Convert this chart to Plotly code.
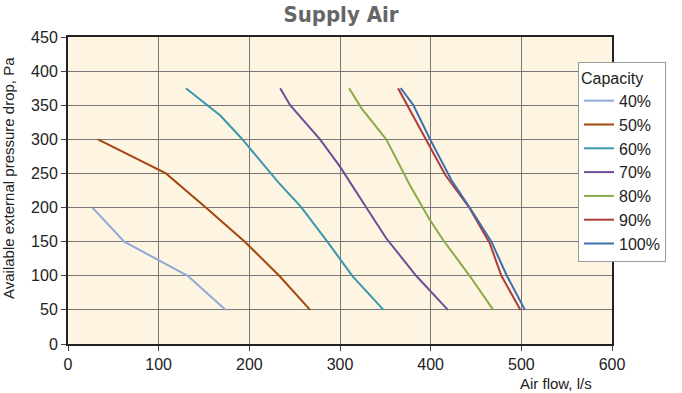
import plotly.graph_objects as go

names = ["40%", "50%", "60%", "70%", "80%", "90%", "100%"]
colors = ["#92a9d8", "#a3470f", "#3898ae", "#6b4f96", "#8aab4c", "#b03b3b", "#3b6fb1"]

x40 = [27, 62, 132, 174]
y40 = [200, 150, 100, 50]
x50 = [33, 108, 152, 195, 233, 267]
y50 = [300, 250, 200, 150, 100, 50]
x60 = [130, 168, 191, 212, 232, 257, 285, 314, 348]
y60 = [375, 335, 302, 268, 237, 201, 152, 99, 50]
x70 = [234, 245, 278, 300, 329, 351, 384, 419]
y70 = [375, 350, 300, 260, 200, 155, 100, 50]
x80 = [310, 324, 351, 377, 399, 414, 443, 469]
y80 = [375, 345, 300, 233, 182, 152, 100, 50]
x90 = [364, 399, 416, 443, 465, 478, 499]
y90 = [375, 291, 248, 199, 148, 100, 50]
x100 = [367, 381, 399, 423, 443, 467, 484, 504]
y100 = [375, 350, 301, 240, 200, 150, 100, 50]

xs = [x40, x50, x60, x70, x80, x90, x100]
ys = [y40, y50, y60, y70, y80, y90, y100]

font_fam = "Liberation Sans, Arial, sans-serif"

fig = go.Figure()
for n, c, xv, yv in zip(names, colors, xs, ys):
    fig.add_trace(go.Scatter(x=xv, y=yv, mode="lines", name=n,
                             line=dict(color=c, width=2)))

W, H = 682, 393
L, R, T, B = 68, 70, 37, 49

fig.update_layout(
    width=W, height=H,
    margin=dict(l=L, r=R, t=T, b=B, autoexpand=False),
    paper_bgcolor="white",
    plot_bgcolor="#fdf4e1",
    font=dict(family=font_fam, size=15, color="#222"),
    title=dict(text="<b>Supply Air</b>", x=0.5, xanchor="center", y=1 - 14 / H, yanchor="middle",
               font=dict(family="DejaVu Sans Condensed, Liberation Sans Narrow, sans-serif", size=22, color="#666")),
    legend=dict(x=(578 - L) / (W - L - R), y=(344 - 62) / (H - T - B), xanchor="left", yanchor="top",
                bgcolor="white", bordercolor="#999", borderwidth=1,
                title=dict(text="Capacity", font=dict(size=16)),
                font=dict(size=16), tracegroupgap=0, itemwidth=30),
    showlegend=True,
    annotations=[
        dict(text="Air flow, l/s", xref="paper", yref="paper",
             x=(556 - L) / (W - L - R), y=-(383 - 344) / (H - T - B),
             xanchor="center", yanchor="middle", showarrow=False, font=dict(size=15)),
        dict(text="Available external pressure drop, Pa", xref="paper", yref="paper",
             x=-(L - 8) / (W - L - R), y=(344 - 178) / (H - T - B), textangle=-90,
             xanchor="center", yanchor="middle", showarrow=False, font=dict(size=15)),
    ],
)
fig.update_xaxes(range=[0, 600], tickvals=[0, 100, 200, 300, 400, 500, 600],
                 showgrid=True, gridcolor="#777", gridwidth=1, automargin=False,
                 ticks="outside", ticklen=5, tickcolor="#444", tickfont=dict(size=16),
                 showline=True, linecolor="#222", linewidth=2, mirror=True,
                 zeroline=False)
fig.update_yaxes(range=[0, 450], tickvals=list(range(0, 451, 50)),
                 showgrid=True, gridcolor="#777", gridwidth=1, automargin=False,
                 ticks="outside", ticklen=5, tickcolor="#444", tickfont=dict(size=16),
                 showline=True, linecolor="#222", linewidth=2, mirror=True,
                 zeroline=False)

fig.write_html("out.html", config={"displayModeBar": False},
               post_script="document.body.style.margin='0';document.body.style.overflow='hidden';")
